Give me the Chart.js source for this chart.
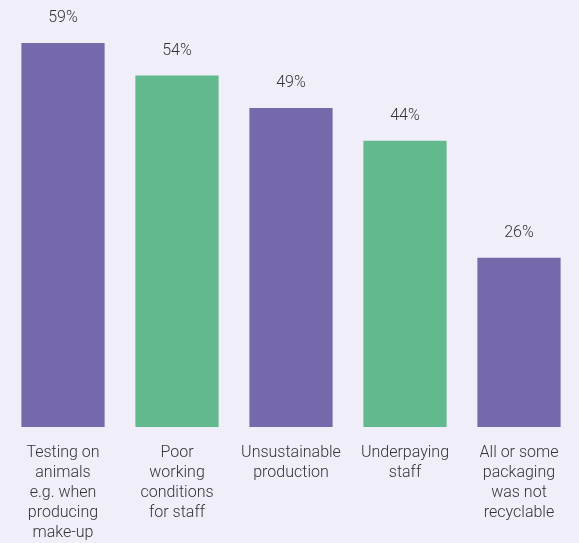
<!DOCTYPE html>
<html>
<head>
<meta charset="utf-8">
<script src="https://cdn.jsdelivr.net/npm/chart.js@4/dist/chart.umd.min.js"></script>
<style>
  html, body { margin: 0; padding: 0; background: #f0eef9; }
  #wrap { width: 579px; height: 543px; }
</style>
</head>
<body>
<div id="wrap"><canvas id="chart"></canvas></div>
<script>
const categories = [
  ["Testing on", "animals", "e.g. when", "producing", "make-up"],
  ["Poor", "working", "conditions", "for staff"],
  ["Unsustainable", "production"],
  ["Underpaying", "staff"],
  ["All or some", "packaging", "was not", "recyclable"]
];
const values = [59, 54, 49, 44, 26];
const barColors = ["#7569ab", "#61b98d", "#7569ab", "#61b98d", "#7569ab"];

// percent labels above each bar
const valueLabels = {
  id: "valueLabels",
  afterDatasetsDraw(chart) {
    const ctx = chart.ctx;
    const meta = chart.getDatasetMeta(0);
    ctx.save();
    ctx.font = "300 16px Roboto";
    ctx.fillStyle = "#333333";
    ctx.textAlign = "center";
    ctx.textBaseline = "middle";
    meta.data.forEach((bar, i) => {
      ctx.fillText(values[i] + "%", bar.x, bar.y - 25);
    });
    ctx.restore();
  }
};

new Chart(document.getElementById("chart"), {
  type: "bar",
  data: {
    labels: categories,
    datasets: [{
      data: values,
      backgroundColor: barColors,
      borderWidth: 0,
      categoryPercentage: 1,
      barPercentage: 0.73
    }]
  },
  options: {
    responsive: true,
    maintainAspectRatio: false,
    animation: false,
    layout: { padding: { left: 6, right: 3, top: 4, bottom: 0 } },
    plugins: { legend: { display: false }, tooltip: { enabled: false } },
    scales: {
      y: { display: false, min: 0, max: 65 },
      x: {
        grid: { display: false },
        border: { display: false },
        ticks: {
          color: "#333333",
          font: { family: "Roboto", size: 16, weight: "300", lineHeight: 1.25 },
          padding: 8,
          maxRotation: 0,
          autoSkip: false
        },
        afterFit(scale) { scale.height = 116; }
      }
    }
  },
  plugins: [valueLabels]
});
</script>
</body>
</html>
